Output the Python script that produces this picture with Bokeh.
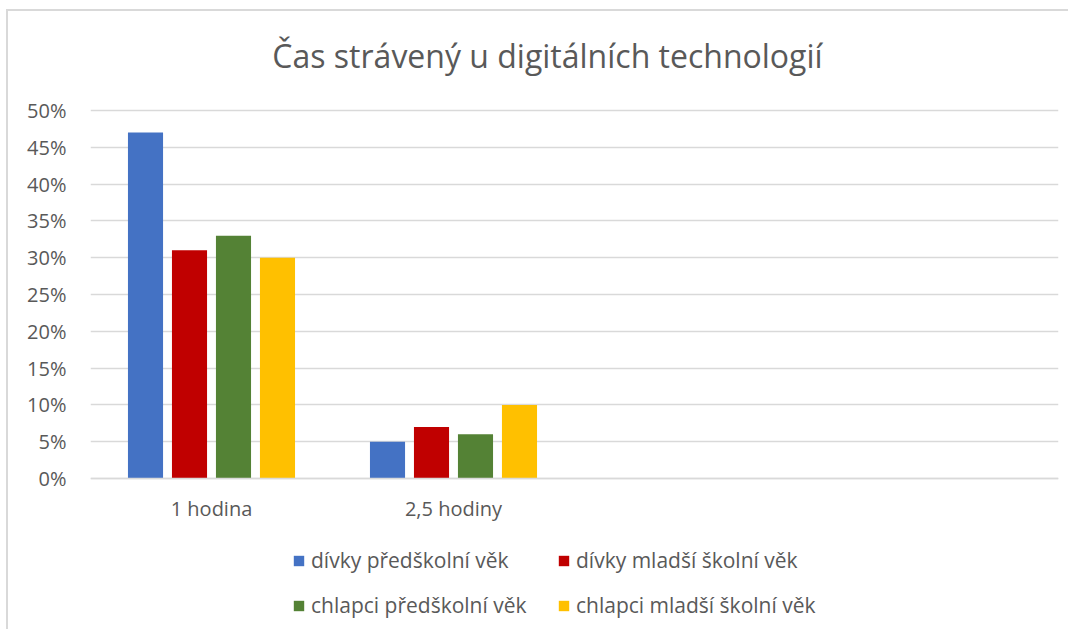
from bokeh.plotting import figure
from bokeh.models import ColumnDataSource, FactorRange, Range1d, NumeralTickFormatter, FixedTicker, Legend, LegendItem, Label
from bokeh.transform import dodge
from bokeh.embed import file_html
from bokeh.resources import INLINE

# ---- data ----
categories = ["1 hodina", "2,5 hodiny", " ", "  "]
series_names = ["dívky předškolní věk", "dívky mladší školní věk",
                "chlapci předškolní věk", "chlapci mladší školní věk"]
divky_predskolni = [0.47, 0.05, float("nan"), float("nan")]
divky_mladsi = [0.31, 0.07, float("nan"), float("nan")]
chlapci_predskolni = [0.33, 0.06, float("nan"), float("nan")]
chlapci_mladsi = [0.30, 0.10, float("nan"), float("nan")]
y_ticks = [0.0, 0.05, 0.10, 0.15, 0.20, 0.25, 0.30, 0.35, 0.40, 0.45, 0.50]
colors = ["#4472C4", "#C00000", "#548235", "#FFC000"]
title_text = "Čas strávený u digitálních technologií"

FONT = "Open Sans"
TXT = "#595959"
GRID = "#D9D9D9"

source = ColumnDataSource(dict(cat=categories, s0=divky_predskolni, s1=divky_mladsi,
                               s2=chlapci_predskolni, s3=chlapci_mladsi))

# frame covers the whole chart area; value axis 0..50% occupies its middle part
p = figure(x_range=FactorRange(*categories, range_padding=0),
           y_range=Range1d(-0.1997, 0.6318),
           frame_width=968, frame_height=612,
           min_border_left=82, min_border_right=10, min_border_top=2, min_border_bottom=4,
           output_backend="svg", toolbar_location=None, tools="",
           background_fill_color="white", border_fill_color="white")
p.outline_line_color = None

p.add_layout(Label(x=457, y=570, x_units="screen", y_units="screen", text=title_text,
                   text_align="center", text_baseline="alphabetic", text_font=FONT,
                   text_font_size="32px", text_color=TXT))

offsets = [-0.2727, -0.0909, 0.0909, 0.2727]
renderers = []
for i, col in enumerate(["s0", "s1", "s2", "s3"]):
    r = p.vbar(x=dodge("cat", offsets[i], range=p.x_range), top=col, width=0.145,
               source=source, fill_color=colors[i], line_color=None)
    renderers.append(r)

# axes
p.yaxis.ticker = FixedTicker(ticks=y_ticks)
p.yaxis.formatter = NumeralTickFormatter(format="0%")
p.yaxis.axis_line_color = None
p.yaxis.major_tick_line_color = None
p.yaxis.minor_tick_line_color = None
p.yaxis.major_tick_out = 0
p.yaxis.major_tick_in = 0
p.yaxis.minor_tick_out = 0
p.yaxis.major_label_standoff = 24
p.yaxis.major_label_text_font = FONT
p.yaxis.major_label_text_font_size = "20px"
p.yaxis.major_label_text_color = TXT

p.xaxis.fixed_location = 0
p.xaxis.axis_line_color = GRID
p.xaxis.axis_line_width = 1.5
p.xaxis.major_tick_line_color = None
p.xaxis.minor_tick_line_color = None
p.xaxis.major_tick_out = 0
p.xaxis.major_tick_in = 0
p.xaxis.major_label_standoff = 16
p.xaxis.major_label_text_font = FONT
p.xaxis.major_label_text_font_size = "20px"
p.xaxis.major_label_text_color = TXT

p.xgrid.grid_line_color = None
p.ygrid.grid_line_color = GRID
p.ygrid.grid_line_width = 1.5
p.ygrid.ticker = FixedTicker(ticks=y_ticks)


def make_legend(idx, xloc):
    lg = Legend(items=[LegendItem(label=series_names[i], renderers=[renderers[i]]) for i in idx],
                location=(xloc, 6), orientation="vertical")
    lg.label_text_font = FONT
    lg.label_text_font_size = "21px"
    lg.label_text_color = TXT
    lg.glyph_width = 13
    lg.glyph_height = 13
    lg.label_standoff = 6
    lg.label_height = 24
    lg.spacing = 17
    lg.padding = 0
    lg.margin = 0
    lg.border_line_color = None
    lg.background_fill_alpha = 0
    return lg


p.add_layout(make_legend([0, 2], 202))
p.add_layout(make_legend([1, 3], 467))

p.styles = {"margin-left": "6px", "margin-top": "9px",
            "border-left": "2px solid #D9D9D9", "border-top": "2px solid #D9D9D9"}

open("out.html", "w").write(file_html(p, INLINE))
